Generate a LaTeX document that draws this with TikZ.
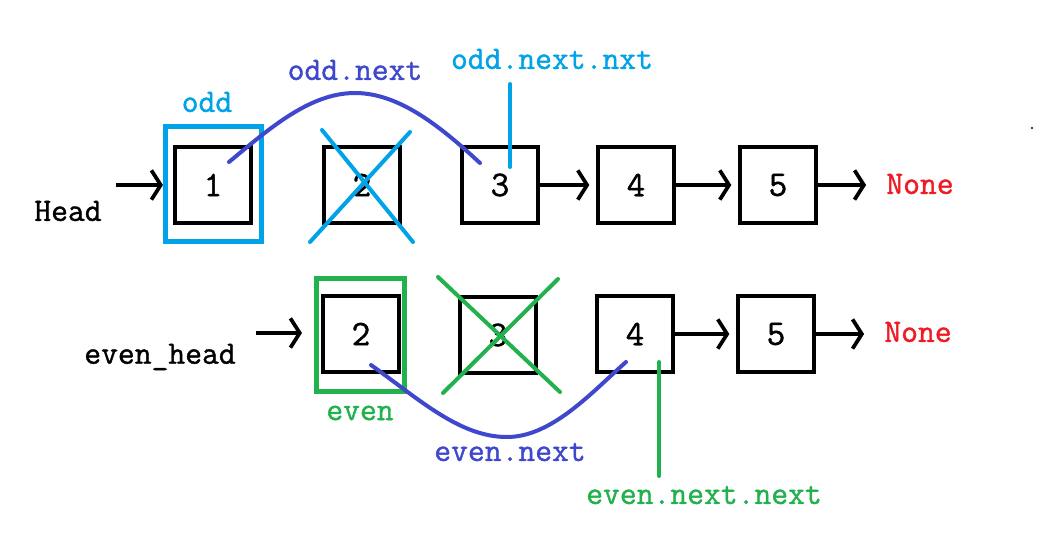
\documentclass[tikz,border=0pt]{standalone}
\usepackage{fontspec}
\newfontfamily\lblfont[FakeBold=1.2]{Latin Modern Mono}
\usetikzlibrary{arrows.meta}
\definecolor{cyanc}{HTML}{00A2E8}
\definecolor{bluec}{HTML}{3F48CC}
\definecolor{greenc}{HTML}{22B14C}
\definecolor{redc}{HTML}{ED1C24}
\tikzset{
  nodebox/.style={draw=black, line width=3pt, minimum size=57pt, inner sep=0pt, font=\lblfont\fontsize{27}{30}\selectfont},
  lbl/.style={inner sep=0pt, font=\lblfont\fontsize{24.5}{28}\selectfont},
  arr/.style={line width=2.8pt, -{Straight Barb[length=7pt,width=22pt,line width=2.8pt]}},
  strk/.style={line width=3pt, line cap=round},
  ptrbox/.style={line width=3.8pt, inner sep=0pt},
}
\begin{document}
\begin{tikzpicture}[x=0.75pt,y=-0.75pt]
\useasboundingbox (0,0) rectangle (1061,558);
% ---------- top row ----------
\node[ptrbox, draw=cyanc, minimum width=72pt, minimum height=86pt] (oddbox) at (213.5,184) {};
\node[nodebox] (t1) at (213,185) {1};
\node[nodebox] (t2) at (362,185) {2};
\node[nodebox] (t3) at (500,185) {3};
\node[nodebox] (t4) at (636,185) {4};
\node[nodebox] (t5) at (778,185) {5};
\node[lbl, text=redc] (tnone) at (920,184) {None};
\node[lbl] (head) at (68,211) {Head};
\node[lbl, text=cyanc] (oddlbl) at (207,102) {odd};
\node[lbl, text=bluec] (oddnextlbl) at (355,70) {odd.next};
\node[lbl, text=cyanc] (oddnnlbl) at (552,59) {odd.next.nxt};
\coordinate (headstart) at (116,185);
\draw[arr] (headstart) -- (oddbox.west |- headstart);
\draw[arr, shorten >=5pt] (t3) -- (t4);
\draw[arr, shorten >=5pt] (t4) -- (t5);
\draw[arr, shorten >=15pt] (t5) -- (tnone.west |- t5);
% cross on node 2
\draw[strk, cyanc] (322,130) -- (413,242);
\draw[strk, cyanc] (310,242) -- (410,132);
% odd.next curve
\coordinate (oc1) at (229,162);
\coordinate (oc2) at (480,163);
\draw[strk, bluec] (oc1) .. controls (270,128) and (310,93) .. (355,93)
  .. controls (400,93) and (442,128) .. (oc2);
% odd.next.nxt pointer
\coordinate (onn1) at (510,84);
\coordinate (onn2) at (510,167);
\draw[strk, cyanc] (onn1) -- (onn2);
% ---------- bottom row ----------
\node[ptrbox, draw=greenc, minimum width=66pt, minimum height=85pt] (evenbox) at (360.5,335) {};
\node[nodebox] (b2) at (361,334) {2};
\node[nodebox] (b3) at (498,335) {3};
\node[nodebox] (b4) at (635,334) {4};
\node[nodebox] (b5) at (776,334) {5};
\node[lbl, text=redc] (bnone) at (918,332) {None};
\node[lbl] (evenhead) at (160,357) {even\_head};
\node[lbl, text=greenc] (evenlbl) at (360,413) {even};
\node[lbl, text=bluec] (evennextlbl) at (510,452) {even.next};
\node[lbl, text=greenc] (evennnlbl) at (704,495) {even.next.next};
\coordinate (ehstart) at (256,333);
\draw[arr, shorten >=9pt] (ehstart) -- (evenbox.west |- ehstart);
\draw[arr, shorten >=5pt] (b4) -- (b5);
\draw[arr, shorten >=15pt] (b5) -- (bnone.west |- b5);
% cross on node 3
\draw[strk, greenc] (438,277) -- (560,392);
\draw[strk, greenc] (558,279) -- (443,393);
% even.next curve
\coordinate (ec1) at (371,365);
\coordinate (ec2) at (626,362);
\draw[strk, bluec] (ec1) .. controls (420,400) and (460,437) .. (507,437)
  .. controls (552,437) and (592,392) .. (ec2);
% even.next.next pointer
\coordinate (enn1) at (659,362);
\coordinate (enn2) at (659,476);
\draw[strk, greenc] (enn1) -- (enn2);
% stray dot
\fill (1032,128) circle (0.8pt);
\end{tikzpicture}
\end{document}
